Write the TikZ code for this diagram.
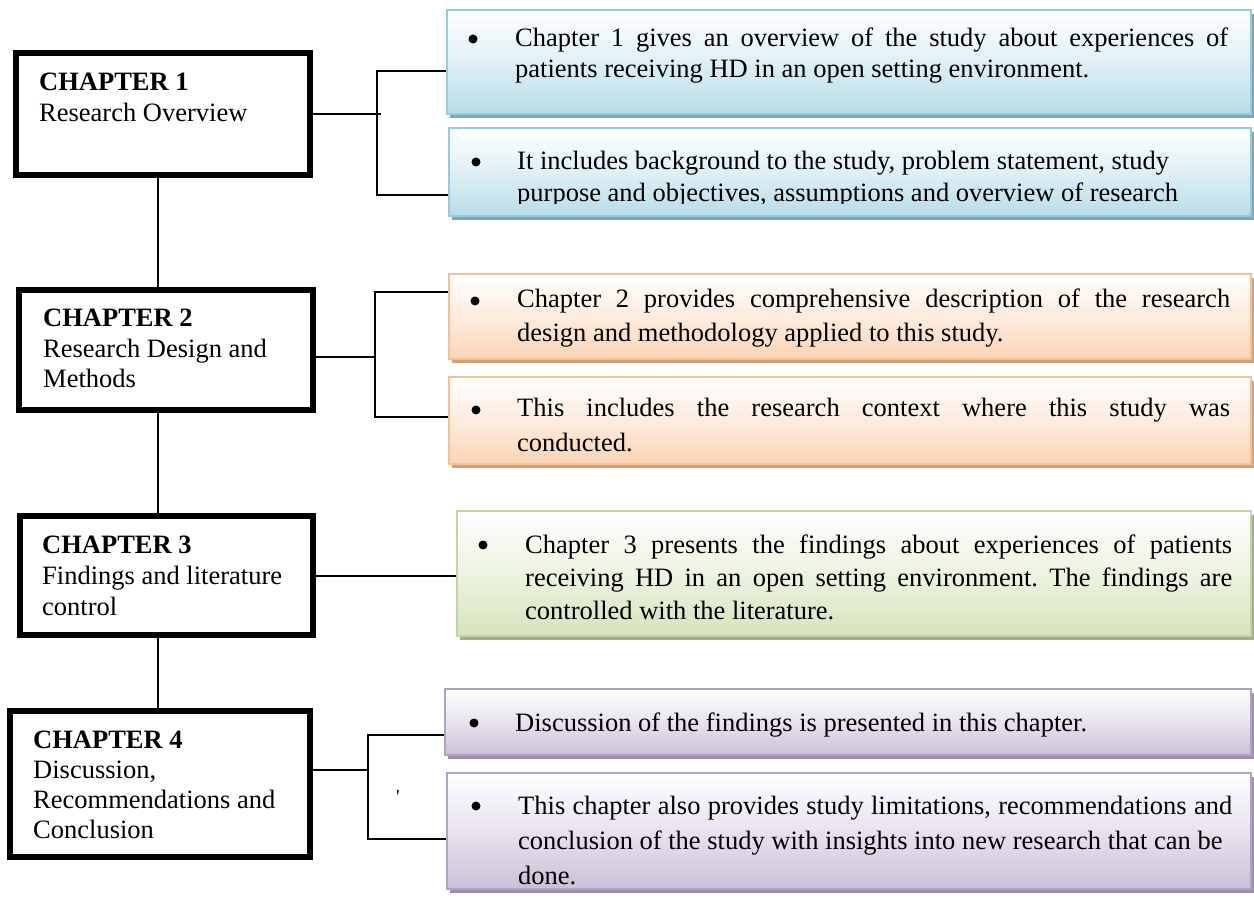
\documentclass[tikz,border=0pt]{standalone}
\usepackage{fontspec}
\setmainfont{Liberation Serif}
\usetikzlibrary{shadows}
\definecolor{bluebd}{RGB}{146,205,221}
\definecolor{bluebg}{RGB}{183,221,232}
\definecolor{bluesh}{RGB}{134,164,176}
\definecolor{orangebd}{RGB}{250,191,143}
\definecolor{orangebg}{RGB}{251,212,180}
\definecolor{orangesh}{RGB}{200,164,134}
\definecolor{greenbd}{RGB}{194,214,155}
\definecolor{greenbg}{RGB}{214,227,188}
\definecolor{greensh}{RGB}{164,172,146}
\definecolor{purplebd}{RGB}{178,161,199}
\definecolor{purplebg}{RGB}{204,192,217}
\definecolor{purplesh}{RGB}{156,146,168}
\frenchspacing
\begin{document}
\begin{tikzpicture}[x=1pt,y=-1pt,
  font=\fontsize{26.5}{31}\selectfont,
  chbox/.style={draw=black, line width=6pt, inner sep=0pt, fill=white},
  rbox/.style={draw=#1bd, line width=2pt, inner sep=0pt,
    top color=white, bottom color=#1bg, middle color=#1bg!45,
    drop shadow={shadow xshift=3pt, shadow yshift=-4pt, fill=#1sh, opacity=1}},
  txt/.style={anchor=base west, inner sep=0pt},
  bul/.style={circle, fill=black, inner sep=0pt, minimum size=9pt},
  conn/.style={draw=black, line width=2pt}]
\fill[white] (0,0) rectangle (1254,901);
\useasboundingbox (0,0) rectangle (1254,901);

% right boxes
\node[rbox=blue, minimum width=804pt, minimum height=104pt] (b11) at (849,62) {};
\node[rbox=blue, minimum width=802pt, minimum height=88pt] (b12) at (850,172) {};
\node[rbox=orange, minimum width=802pt, minimum height=85pt] (o21) at (850,316.5) {};
\node[rbox=orange, minimum width=802pt, minimum height=87pt] (o22) at (850,420.5) {};
\node[rbox=green, minimum width=794pt, minimum height=125pt] (g3) at (854,573.5) {};
\node[rbox=purple, minimum width=806pt, minimum height=66pt] (p41) at (848,722) {};
\node[rbox=purple, minimum width=804pt, minimum height=116pt] (p42) at (849,831) {};

% bullets
\node[bul] (bu11) at (473,39) {};
\node[bul] (bu12) at (476,162) {};
\node[bul] (bu21) at (475,301) {};
\node[bul] (bu22) at (476,410) {};
\node[bul] (bu3) at (483,545) {};
\node[bul] (bu41) at (474,723) {};
\node[bul] (bu42) at (476,806) {};

% box texts
\node[txt] (t11) at (515,47) {\vtop{\baselineskip=31pt
  \hbox to 713pt{Chapter 1 gives an overview of the study about experiences of}
  \hbox{patients receiving HD in an open setting environment.}}};
\begin{scope}
\clip (448,127) rectangle (1252,203.5);
\node[txt] (t12) at (517,170) {\vtop{\baselineskip=32pt
  \hbox{It includes background to the study, problem statement, study}
  \hbox{purpose and objectives, assumptions and overview of research}}};
\end{scope}
\node[txt] (t21) at (517,308) {\vtop{\baselineskip=34pt
  \hbox to 713pt{Chapter 2 provides comprehensive description of the research}
  \hbox{design and methodology applied to this study.}}};
\node[txt] (t22) at (517,417) {\vtop{\baselineskip=35pt
  \hbox to 713pt{This includes the research context where this study was}
  \hbox{conducted.}}};
\node[txt] (t3) at (525,553) {\vtop{\baselineskip=33pt
  \hbox to 707pt{Chapter 3 presents the findings about experiences of patients}
  \hbox to 707pt{receiving HD in an open setting environment. The findings are}
  \hbox{controlled with the literature.}}};
\node[txt] (t41) at (515,731) {Discussion of the findings is presented in this chapter.};
\node[txt] (t42) at (518,814) {\vtop{\baselineskip=35pt
  \hbox to 714pt{This chapter also provides study limitations, recommendations and}
  \hbox{conclusion of the study with insights into new research that can be}
  \hbox{done.}}};

% chapter boxes
\node[chbox, minimum width=294pt, minimum height=122pt] (ch1) at (163,114) {};
\node[chbox, minimum width=294pt, minimum height=120pt] (ch2) at (166,350) {};
\node[chbox, minimum width=293pt, minimum height=119pt] (ch3) at (166.5,575.5) {};
\node[chbox, minimum width=300pt, minimum height=146pt] (ch4) at (160,784) {};

\node[txt] (c1) at (39,91) {\vtop{\baselineskip=31pt
  \hbox{\bfseries CHAPTER 1}\hbox{Research Overview}}};
\node[txt] (c2) at (43,327) {\vtop{\baselineskip=30.5pt
  \hbox{\bfseries CHAPTER 2}\hbox{Research Design and}\hbox{Methods}}};
\node[txt] (c3) at (42,553) {\vtop{\baselineskip=31pt
  \hbox{\bfseries CHAPTER 3}\hbox{Findings and literature}\hbox{control}}};
\node[txt] (c4) at (33,748) {\vtop{\baselineskip=30pt
  \hbox{\bfseries CHAPTER 4}\hbox{Discussion,}\hbox{Recommendations and}\hbox{Conclusion}}};

% stray tick mark
\node[inner sep=0pt, font=\fontsize{20}{20}\selectfont] (tick) at (398,797) {\textquotesingle};

% connectors
\coordinate (sp) at (158,0);
\draw[conn] (ch1.south -| sp) -- (ch2.north -| sp);
\draw[conn] (ch2.south -| sp) -- (ch3.north -| sp);
\draw[conn] (ch3.south -| sp) -- (ch4.north -| sp);

\coordinate (j1t) at (377,71);
\coordinate (j1b) at (377,195);
\coordinate (j1m) at (381,114);
\draw[conn] (ch1.east) -- (j1m);
\draw[conn] (j1t -| b11.west) -- (j1t) -- (j1b) -- (j1b -| b12.west);

\coordinate (j2t) at (375,292);
\coordinate (j2b) at (375,417);
\coordinate (j2m) at (375,357);
\draw[conn] (j2m -| ch2.east) -- (j2m);
\draw[conn] (j2t -| o21.west) -- (j2t) -- (j2b) -- (j2b -| o22.west);

\draw[conn] (ch3.east) -- (ch3.east -| g3.west);

\coordinate (j4t) at (368,735);
\coordinate (j4b) at (368,839);
\coordinate (j4m) at (368,770);
\draw[conn] (j4m -| ch4.east) -- (j4m);
\draw[conn] (j4t -| p41.west) -- (j4t) -- (j4b) -- (j4b -| p42.west);
\end{tikzpicture}
\end{document}
